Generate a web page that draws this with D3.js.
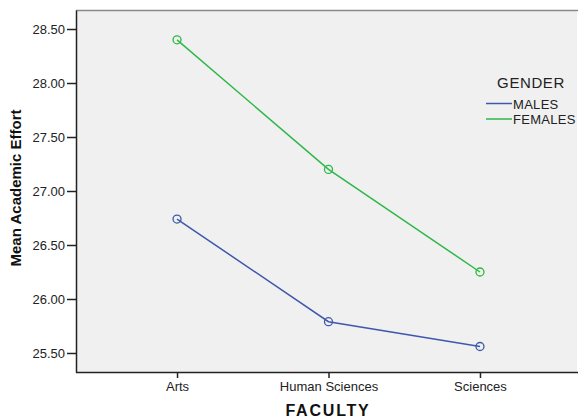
<!DOCTYPE html>
<html><head><meta charset="utf-8">
<script src="https://cdn.jsdelivr.net/npm/d3@7"></script>
<style>body{margin:0;background:#fff}svg{display:block;font-family:"Liberation Sans",Arial,sans-serif}</style>
</head><body>
<svg id="c" width="578" height="419"></svg>
<script>
const categories = ["Arts", "Human Sciences", "Sciences"];
const seriesNames = ["MALES", "FEMALES"];
const males = [26.74, 25.79, 25.56];
const females = [28.40, 27.20, 26.25];
const yTicks = [25.5, 26.0, 26.5, 27.0, 27.5, 28.0, 28.5];
const colors = ["#3E58AC", "#2EB848"];

const svg = d3.select("#c");
const L = 76, R = 581, T = 10, B = 372;
const x = d3.scalePoint().domain(categories).range([L, R]).padding(0.667);
const y = d3.scaleLinear().domain([25.324, 28.676]).range([B, T]);

svg.append("rect").attr("x", L).attr("y", T).attr("width", 577 - L).attr("height", B - T)
  .attr("fill", "#F0F0F0");
svg.append("line").attr("x1", L).attr("x2", 578).attr("y1", T + 0.5).attr("y2", T + 0.5)
  .attr("stroke", "#8a8a8a").attr("stroke-width", 1.5);

const yAxis = svg.append("g").attr("transform", `translate(${L},0)`)
  .call(d3.axisLeft(y).tickValues(yTicks).tickFormat(d3.format(".2f")).tickSize(9).tickPadding(2).tickSizeOuter(0));
yAxis.select(".domain").attr("stroke", "#222").attr("stroke-width", 1.5);
yAxis.selectAll(".tick line").attr("stroke", "#222").attr("stroke-width", 1.5);
yAxis.selectAll("text").attr("font-size", 13).attr("fill", "#222").attr("font-family", "Liberation Sans, Arial");

const xAxis = svg.append("g").attr("transform", `translate(0,${B})`)
  .call(d3.axisBottom(x).tickSize(6).tickPadding(4).tickSizeOuter(0));
xAxis.select(".domain").attr("stroke", "#222").attr("stroke-width", 1.5).attr("d", `M${L},0.5H578`);
xAxis.selectAll(".tick line").attr("stroke", "#222").attr("stroke-width", 1.5);
xAxis.selectAll("text").attr("font-size", 13).attr("fill", "#222").attr("font-family", "Liberation Sans, Arial");

const series = [males, females];
const line = d3.line().x((d, i) => x(categories[i])).y(d => y(d));
series.forEach((s, k) => {
  svg.append("path").datum(s).attr("d", line).attr("fill", "none")
    .attr("stroke", colors[k]).attr("stroke-width", 1.5);
  svg.selectAll(null).data(s).enter().append("circle")
    .attr("cx", (d, i) => x(categories[i])).attr("cy", d => y(d)).attr("r", 4)
    .attr("fill", "none").attr("stroke", colors[k]).attr("stroke-width", 1.3);
});

svg.append("text").attr("transform", `translate(21,188) rotate(-90)`).attr("text-anchor", "middle")
  .attr("font-size", 15).attr("font-weight", "bold").attr("fill", "#111").text("Mean Academic Effort");
svg.append("text").attr("x", 328).attr("y", 416).attr("text-anchor", "middle")
  .attr("font-size", 16).attr("font-weight", "bold").attr("letter-spacing", 1.8).attr("fill", "#111").text("FACULTY");

svg.append("text").attr("x", 531).attr("y", 88).attr("text-anchor", "middle")
  .attr("font-size", 15).attr("fill", "#222").attr("letter-spacing", 0.6).text("GENDER");
seriesNames.forEach((n, k) => {
  const yy = 103.5 + k * 15.5;
  svg.append("line").attr("x1", 486).attr("x2", 512).attr("y1", yy).attr("y2", yy)
    .attr("stroke", colors[k]).attr("stroke-width", 1.5);
  svg.append("text").attr("x", 513).attr("y", yy + 5).attr("font-size", 13).attr("letter-spacing", 0.3)
    .attr("fill", "#222").text(n);
});
</script>
</body></html>
